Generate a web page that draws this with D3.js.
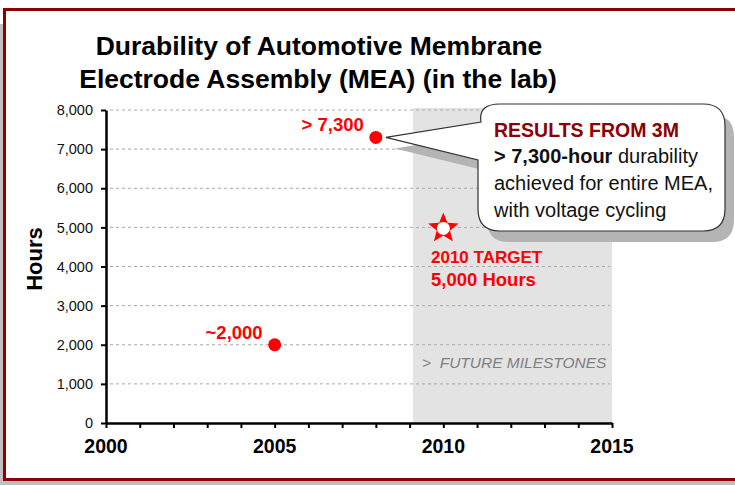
<!DOCTYPE html>
<html>
<head>
<meta charset="utf-8">
<script src="https://cdn.jsdelivr.net/npm/d3@7"></script>
<style>
  body { margin: 0; background: #fff; }
  svg { display: block; font-family: "Liberation Sans", Arial, sans-serif; }
</style>
</head>
<body>
<div id="chart-container"></div>
<script>
// data
const years = [2005, 2008];
const hours = [2000, 7300];
const pointLabels = ["~2,000", "> 7,300"];
const targetYear = [2010];
const targetHours = [5000];
const targetLabels = ["2010 TARGET", "5,000 Hours"];
const futureStart = 2009.1;
const futureEnd = 2015;
const yTicks = [0, 1000, 2000, 3000, 4000, 5000, 6000, 7000, 8000];
const xLabelYears = [2000, 2005, 2010, 2015];
const calloutLines = ["> 7,300-hour durability", "achieved for entire MEA,", "with voltage cycling"];

const width = 735;
const height = 485;

const svg = d3.select("#chart-container")
    .append("svg")
    .attr("width", width)
    .attr("height", height);

// slide frame
svg.append("rect").attr("x", 0).attr("y", 24).attr("width", 3).attr("height", height - 24).attr("fill", "#c0c0c0");
svg.append("rect").attr("x", 0).attr("y", 481).attr("width", width).attr("height", 4).attr("fill", "#c0c0c0");
svg.append("rect")
    .attr("x", 4.5).attr("y", 9.5)
    .attr("width", width + 20).attr("height", 470)
    .attr("fill", "#fff")
    .attr("stroke", "#8b0000")
    .attr("stroke-width", 3);

// title
const title = svg.append("text")
    .attr("text-anchor", "middle")
    .style("font-size", "26.5px")
    .style("font-weight", "bold")
    .attr("fill", "#000");
title.append("tspan").attr("x", 319).attr("y", 55).text("Durability of Automotive Membrane");
title.append("tspan").attr("x", 318).attr("y", 88).text("Electrode Assembly (MEA) (in the lab)");

const x = d3.scaleLinear().domain([2000, 2015]).range([106, 612]);
const y = d3.scaleLinear().domain([0, 8000]).range([423, 110]);

// future shading
svg.append("rect")
    .attr("x", x(futureStart))
    .attr("y", y(8000) - 2)
    .attr("width", x(futureEnd) - x(futureStart))
    .attr("height", y(0) - y(8000) + 2)
    .attr("fill", "#e3e3e3");

// gridlines
svg.append("g")
    .selectAll("line")
    .data(yTicks.filter(d => d > 0))
    .enter()
    .append("line")
    .attr("x1", x(2000) + 4)
    .attr("x2", x(2015) - 2)
    .attr("y1", d => y(d))
    .attr("y2", d => y(d))
    .attr("stroke", "#a8a8a8")
    .attr("stroke-dasharray", "3,3");

svg.append("text")
    .attr("x", 422)
    .attr("y", 368)
    .style("font-size", "15.5px")
    .style("font-style", "italic")
    .attr("fill", "#808080")
    .attr("xml:space", "preserve")
    .text(">  FUTURE MILESTONES");

// axes
const yAxis = svg.append("g")
    .attr("transform", `translate(${x(2000)},0)`)
    .call(d3.axisLeft(y).tickValues(yTicks).tickSize(5).tickSizeOuter(0).tickFormat(d3.format(",")));
yAxis.select(".domain").attr("stroke-width", 2.5);
yAxis.selectAll(".tick line").attr("stroke-width", 2);
yAxis.selectAll("text")
    .style("font-size", "14.5px")
    .style("font-family", "\"Liberation Sans\", Arial, sans-serif")
    .attr("fill", "#111")
    .attr("x", -13);

const xAxis = svg.append("g")
    .attr("transform", `translate(0,${y(0)})`)
    .call(d3.axisBottom(x).ticks(15).tickSize(5).tickSizeOuter(0).tickFormat(""));
xAxis.select(".domain").attr("stroke-width", 2.5);
xAxis.selectAll(".tick line").attr("stroke-width", 2);

svg.append("g")
    .selectAll("text")
    .data(xLabelYears)
    .enter()
    .append("text")
    .attr("x", d => x(d))
    .attr("y", 453)
    .attr("text-anchor", "middle")
    .style("font-size", "19.5px")
    .style("font-weight", "bold")
    .text(d => d);

svg.append("text")
    .attr("transform", `translate(42,259) rotate(-90)`)
    .attr("text-anchor", "middle")
    .style("font-size", "22px")
    .style("font-weight", "bold")
    .text("Hours");

// callout bubble with shadow
function bubble(dx, dy) {
    const l = 478 + dx, t = 104 + dy, r = 725 + dx, b = 231 + dy, rad = 22;
    const tipX = x(2008) + 10 + dx, tipY = y(7300) + dy;
    return `M${l + rad},${t} L${r - rad},${t} Q${r},${t} ${r},${t + rad}` +
        ` L${r},${b - rad} Q${r},${b} ${r - rad},${b}` +
        ` L${l + rad},${b} Q${l},${b} ${l},${b - rad}` +
        ` L${l},${160 + dy} L${tipX},${tipY} L${l + 3},${122 + dy}` +
        ` Q${l},${t} ${l + rad},${t} Z`;
}
svg.append("path").attr("d", bubble(9, 11)).attr("fill", "#b4b4b4");
svg.append("path").attr("d", bubble(0, 0)).attr("fill", "#fff").attr("stroke", "#333").attr("stroke-width", 1.2);

svg.append("text")
    .attr("x", 494).attr("y", 137)
    .style("font-size", "19.5px").style("font-weight", "bold")
    .attr("fill", "#8b0000")
    .text("RESULTS FROM 3M");
const body = svg.append("text").style("font-size", "20px").attr("fill", "#111");
calloutLines.forEach((line, i) => {
    const tl = body.append("tspan").attr("x", 494).attr("y", 163 + i * 27);
    if (i === 0) {
        tl.append("tspan").style("font-weight", "bold").text("> 7,300-hour");
        tl.append("tspan").text(" durability");
    } else {
        tl.text(line);
    }
});

// data points
svg.append("g")
    .selectAll("circle")
    .data(years)
    .enter()
    .append("circle")
    .attr("cx", d => x(d))
    .attr("cy", (d, i) => y(hours[i]))
    .attr("r", 6.5)
    .attr("fill", "#ff0000");

svg.append("g")
    .selectAll("text")
    .data(pointLabels)
    .enter()
    .append("text")
    .attr("x", (d, i) => x(years[i]) - 12)
    .attr("y", (d, i) => y(hours[i]) - 6)
    .attr("text-anchor", "end")
    .style("font-size", "18.5px")
    .style("font-weight", "bold")
    .attr("fill", "#ff0000")
    .text(d => d);

// target star
const starPts = d3.range(10).map(i => [i * Math.PI / 5, i % 2 === 0 ? 16 : 7]);
const star = svg.append("g")
    .attr("transform", `translate(${x(targetYear[0])},${y(targetHours[0]) + 1})`);
star.append("path")
    .attr("d", d3.lineRadial().curve(d3.curveLinearClosed)(starPts))
    .attr("fill", "#ff0000");
star.append("circle").attr("r", 6.5).attr("fill", "#fff");

svg.append("text")
    .attr("x", 431).attr("y", 263)
    .style("font-size", "17px").style("font-weight", "bold")
    .attr("fill", "#ff0000")
    .text(targetLabels[0]);
svg.append("text")
    .attr("x", 431).attr("y", 286)
    .style("font-size", "18.5px").style("font-weight", "bold")
    .attr("fill", "#ff0000")
    .text(targetLabels[1]);
</script>
</body>
</html>
